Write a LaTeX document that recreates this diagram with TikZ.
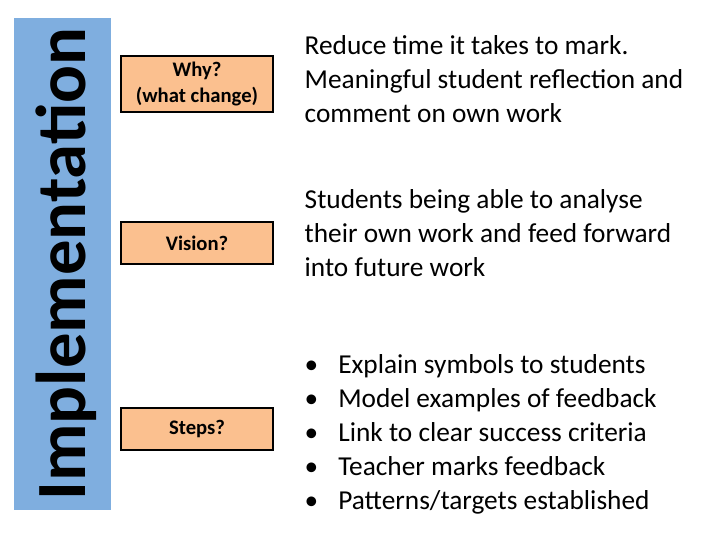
\documentclass[tikz,border=0pt]{standalone}
\usepackage{fontspec}
\setmainfont{Carlito}
\begin{document}
\begin{tikzpicture}[x=0.75pt,y=-0.75pt,
  q/.style={draw=black,line width=1.2pt,fill=peach,minimum width=152*0.75pt,inner xsep=1pt,align=center,font=\fontsize{15.5}{19}\selectfont\bfseries},
  ans/.style={anchor=north west,align=left,font=\fontsize{20.5}{25.5}\selectfont}]
\definecolor{peach}{HTML}{FBC08F}
\definecolor{bar}{HTML}{7FAEDF}
\useasboundingbox (0,0) rectangle (720,540);
\fill[bar] (14,18) rectangle (111,510);
\node[rotate=90,font=\fontsize{53}{57}\selectfont\bfseries] (impl) at (66,264) {Implementation};
\node[q,minimum height=56*0.75pt] (why) at (197,84) {Why?\\(what change)};
\node[q,minimum height=42*0.75pt] (vis) at (197,243) {Vision?};
\node[q,minimum height=42*0.75pt] (steps) at (197,429) {Steps?};
\node[ans] (a1) at (300,31) {Reduce time it takes to mark.\\Meaningful student reflection and\\comment on own work};
\node[ans] (a2) at (300,185) {Students being able to analyse\\their own work and feed forward\\into future work};
\node[ans] (a3) at (300,350) {\textbullet\hspace{15pt}Explain symbols to students\\\textbullet\hspace{15pt}Model examples of feedback\\\textbullet\hspace{15pt}Link to  clear success criteria\\\textbullet\hspace{15pt}Teacher marks feedback\\\textbullet\hspace{15pt}Patterns/targets established};
\end{tikzpicture}
\end{document}
